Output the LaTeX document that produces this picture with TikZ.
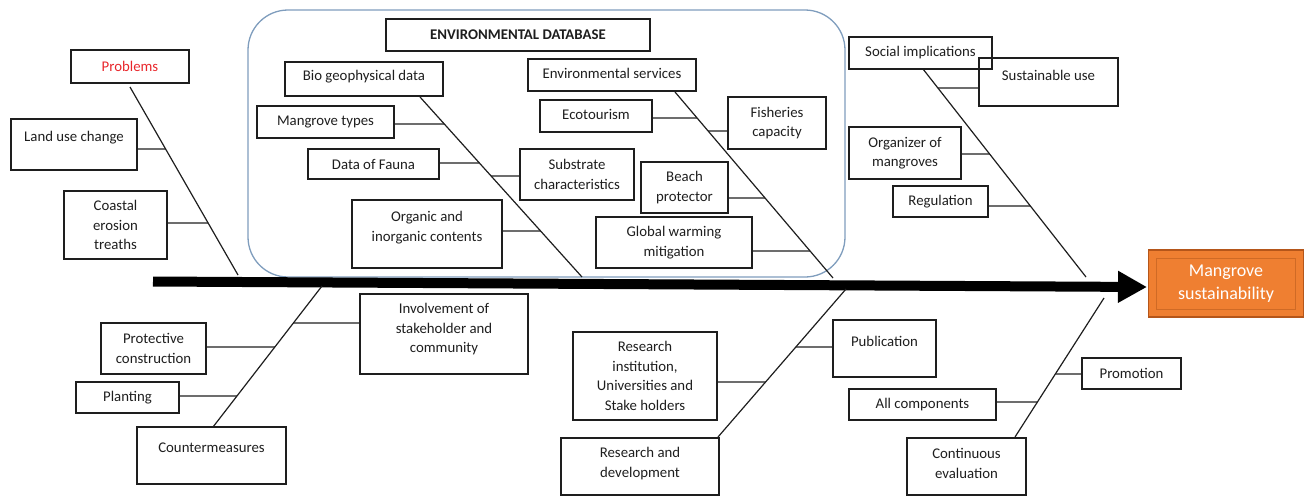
\documentclass[tikz,border=0pt]{standalone}
\usepackage{fontspec}
\setmainfont{Carlito}
\usetikzlibrary{arrows.meta,calc}
\definecolor{envblue}{HTML}{7F9DBD}
\definecolor{orfill}{HTML}{EF7F31}
\definecolor{ordark}{HTML}{B5561A}
\definecolor{orline}{HTML}{CF6A25}
\definecolor{probred}{HTML}{E8262B}
\definecolor{ink}{HTML}{1E1E1E}
\tikzset{
  box/.style={draw=ink, line width=1.2pt, inner sep=0pt},
  txt/.style={align=center, text=ink, font=\fontsize{14.8}{19.5}\selectfont, inner sep=0pt},
  bone/.style={draw=ink, line width=1.2pt},
  spine/.style={draw=black, line width=10pt, -{Triangle[length=29pt,width=30pt]}},
  envframe/.style={draw=envblue, line width=1.3pt, rounded corners=40pt},
}
% \bx[yshift]{name}{x1}{y1}{x2}{y2}{text}
\newcommand\bx[7][0]{%
  \node[box, minimum width={(#5-#3)*1pt}, minimum height={(#6-#4)*1pt},
        label={[txt, yshift=#1pt]center:{#7}}] (#2) at ({(#3+#5)/2},{(#4+#6)/2}) {};}
% \cn{node.anchor}{bone}{y}{id}
\newcommand\cn[4]{%
  \coordinate (h#4a) at (0,#3); \coordinate (h#4b) at (1,#3);
  \draw[bone] (#1 |- h#4a) -- (intersection of #2a--#2b and h#4a--h#4b);}
\begin{document}
\begin{tikzpicture}[x=1pt,y=-1pt]
\useasboundingbox (0,0) rectangle (1306,496);

% environmental database frame
\draw[envframe] (248,10) rectangle (845,277);

% boxes
\bx{Problems}{71}{50}{189}{83}{\textcolor{probred}{Problems}}
\bx[6.5]{Land}{11}{119}{137}{170}{Land use change}
\bx{Coastal}{64}{191}{167}{259}{Coastal\\erosion\\treaths}
\bx{EnvDB}{386}{19}{650}{51}{\textbf{ENVIRONMENTAL DATABASE}}
\bx[2]{Bio}{285}{62}{443}{96}{Bio geophysical data}
\bx{Mang}{257}{106}{394}{138}{Mangrove types}
\bx{Fauna}{308}{149}{439}{179}{Data of Fauna}
\bx{Subs}{520}{149}{634}{200}{Substrate\\characteristics}
\bx[6.5]{Org}{352}{200}{502}{268}{Organic and\\inorganic contents}
\bx[2]{EnvS}{528}{59}{696}{91}{Environmental services}
\bx[2]{Eco}{540}{100}{652}{132}{Ecotourism}
\bx{Fish}{728}{97}{826}{149}{Fisheries\\capacity}
\bx{Beach}{641}{162}{728}{213}{Beach\\protector}
\bx{Glob}{596}{217}{752}{268}{Global warming\\mitigation}
\bx{Social}{849}{37}{992}{69}{Social implications}
\bx[7]{Sust}{979}{58}{1118}{106}{Sustainable use}
\bx{Orgz}{849}{127}{961}{179}{Organizer of\\mangroves}
\bx{Reg}{893}{186}{988}{217}{Regulation}
\bx[4.5]{Inv}{360}{294}{528}{374}{Involvement of\\stakeholder and\\community}
\bx{Prot}{101}{323}{206}{374}{Protective\\construction}
\bx{Plant}{76}{382}{179}{413}{Planting}
\bx[7.5]{Counter}{137}{427}{286}{484}{Countermeasures}
\bx{RInst}{573}{332}{717}{420}{Research\\institution,\\Universities and\\Stake holders}
\bx[7.5]{Pub}{833}{320}{936}{377}{Publication}
\bx[3]{RD}{561}{438}{719}{495}{Research and\\development}
\bx{AllC}{849}{389}{996}{420}{All components}
\bx{Prom}{1082}{358}{1181}{389}{Promotion}
\bx[3]{Cont}{907}{438}{1026}{495}{Continuous\\evaluation}

% goal
\node[fill=orfill, draw=ordark, line width=1.5pt, minimum width=155pt, minimum height=67pt,
      inner sep=0pt, align=center, text=white, font=\fontsize{18}{23}\selectfont,
      path picture={\draw[orline, line width=1pt]
        ([shift={(8pt,8pt)}]path picture bounding box.south west) rectangle
        ([shift={(-8pt,-8pt)}]path picture bounding box.north east);}]
      (goal) at (1226,283.5) {Mangrove\\sustainability};

% spine
\coordinate (spL) at (153,281.5);
\coordinate (spR) at (1147,287);
\draw[spine] (spL) -- (spR);

% bones
\coordinate (b1a) at (130,87);   \coordinate (b1b) at (238,275);
\coordinate (b2a) at (420,97);   \coordinate (b2b) at (582,277);
\coordinate (b3a) at (675,92);   \coordinate (b3b) at (833,278);
\coordinate (b4a) at (923,69);   \coordinate (b4b) at (1086,277);
\coordinate (b5a) at (322,286);  \coordinate (b5b) at (213,427);
\coordinate (b6a) at (846,289);  \coordinate (b6b) at (718,437);
\coordinate (b7a) at (1104,298); \coordinate (b7b) at (1015,437);
\foreach \b in {b1,b2,b3,b4,b5,b6,b7}{\draw[bone] (\b a) -- (\b b);}

% connectors
\cn{Land.east}{b1}{149}{1}
\cn{Coastal.east}{b1}{223}{2}
\cn{Mang.east}{b2}{124}{3}
\cn{Fauna.east}{b2}{163}{4}
\cn{Subs.west}{b2}{176}{5}
\cn{Org.east}{b2}{231}{6}
\cn{Eco.east}{b3}{118}{7}
\cn{Fish.west}{b3}{131}{8}
\cn{Beach.east}{b3}{198}{9}
\cn{Glob.east}{b3}{251}{10}
\cn{Sust.west}{b4}{88}{11}
\cn{Orgz.east}{b4}{154}{12}
\cn{Reg.east}{b4}{206}{13}
\cn{Inv.west}{b5}{323}{14}
\cn{Prot.east}{b5}{347}{15}
\cn{Plant.east}{b5}{396}{16}
\cn{Pub.west}{b6}{347}{17}
\cn{RInst.east}{b6}{382}{18}
\cn{Prom.west}{b7}{374}{19}
\cn{AllC.east}{b7}{402}{20}
\end{tikzpicture}
\end{document}
